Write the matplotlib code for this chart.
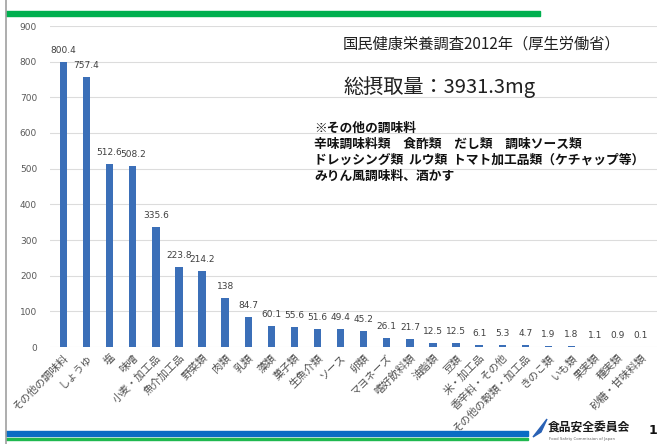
import matplotlib
matplotlib.use("Agg")
import matplotlib.pyplot as plt
import matplotlib.patches as patches
from matplotlib.lines import Line2D

plt.rcParams['font.family'] = ['Noto Sans CJK JP', 'DejaVu Sans']

categories = ['その他の調味料', 'しょうゆ', '塩', '味噌', '小麦・加工品', '魚介加工品',
              '野菜類', '肉類', '乳類', '藻類', '菓子類', '生魚介類', 'ソース', '卵類',
              'マヨネーズ', '嗜好飲料類', '油脂類', '豆類', '米・加工品', '香辛料・その他',
              'その他の穀類・加工品', 'きのこ類', 'いも類', '果実類', '種実類', '砂糖・甘味料類']
values = [800.4, 757.4, 512.6, 508.2, 335.6, 223.8, 214.2, 138, 84.7, 60.1, 55.6, 51.6,
          49.4, 45.2, 26.1, 21.7, 12.5, 12.5, 6.1, 5.3, 4.7, 1.9, 1.8, 1.1, 0.9, 0.1]
yticks = [0, 100, 200, 300, 400, 500, 600, 700, 800, 900]

source_text = '国民健康栄養調査2012年（厚生労働省）'
total_text = '総摂取量：3931.3mg'
note_lines = ['※その他の調味料',
              '辛味調味料類　食酢類　だし類　調味ソース類',
              'ドレッシング類  ルウ類  トマト加工品類（ケチャップ等）',
              'みりん風調味料、酒かす']

W, H = 657, 444
fig = plt.figure(figsize=(W / 100, H / 100), dpi=100)
ax = fig.add_axes([49.6 / W, (H - 347) / H, 1 - 49.6 / W, (347 - 26) / H])

x = list(range(len(categories)))
ax.bar(x, values, width=0.32, color='#3b6fb8', zorder=3)
for xi, v in zip(x, values):
    ax.annotate(f'{v:g}', (xi, v), xytext=(0, 5), textcoords='offset points',
                ha='center', va='bottom', fontsize=6.5, color='#404040',
                family=['DejaVu Sans'])

ax.set_xlim(-0.6, 25.7)
ax.set_ylim(0, 900)
ax.set_yticks(yticks)
ax.set_yticklabels([str(t) for t in yticks], fontsize=6.5, color='#595959',
                   family=['DejaVu Sans'])
ax.yaxis.grid(True, color='#dcdcdc', linewidth=0.8, zorder=0)
ax.set_xticks(x)
ax.set_xticklabels(categories, rotation=45, ha='right', rotation_mode='anchor',
                   fontsize=7.6, color='#505050')
ax.tick_params(axis='both', length=0, pad=4)
ax.tick_params(axis='y', pad=9)
for s in ax.spines.values():
    s.set_visible(False)

# text block
fig.text(343 / W, 1 - 44 / H, source_text, fontsize=11, color='#202020', va='center')
fig.text(343 / W, 1 - 87 / H, total_text, fontsize=14.5, color='#202020', va='center')
for i, line in enumerate(note_lines):
    fig.text(314 / W, 1 - (128 + i * 16) / H, line, fontsize=9.2, color='#111111',
             va='center', weight='bold')

# slide decorations
fig.add_artist(Line2D([6 / W, 6 / W], [0, 1], color='#a0a0a0', lw=1.2))
fig.add_artist(patches.Rectangle((6 / W, 1 - 16 / H), 534 / W, 5 / H,
                                 color='#00b04f', transform=fig.transFigure))
fig.add_artist(patches.Rectangle((6 / W, 1 - 436 / H), 522 / W, 5 / H,
                                 color='#0a6cc4', transform=fig.transFigure))
fig.add_artist(patches.Rectangle((6 / W, 1 - 440 / H), 522 / W, 2.5 / H,
                                 color='#1fb84f', transform=fig.transFigure))
fig.add_artist(patches.Polygon([(533 / W, 1 - 437 / H), (547 / W, 1 - 419 / H),
                                (541 / W, 1 - 432 / H)], closed=True,
                               color='#2a62b5', transform=fig.transFigure))
fig.text(548 / W, 1 - 427 / H, '食品安全委員会', fontsize=8.5, weight='bold',
         color='#1a1a1a', va='center')
fig.text(549 / W, 1 - 439 / H, 'Food Safety Commission of Japan', fontsize=2.8,
         color='#666666', va='center', family=['DejaVu Sans'])
fig.text(649 / W, 1 - 430 / H, '1', fontsize=9, weight='bold', color='#111111',
         va='center', family=['DejaVu Sans'])

fig.savefig('out.png', dpi=100)
